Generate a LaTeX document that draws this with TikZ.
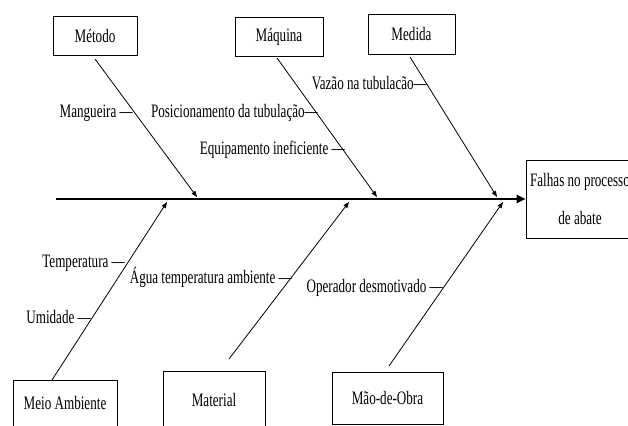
\documentclass[tikz,border=0pt]{standalone}
\usepackage{fontspec}
\setmainfont[FakeStretch=0.69]{Liberation Serif}
\usetikzlibrary{arrows.meta}
\begin{document}
\begin{tikzpicture}[x=1pt,y=-1pt,
  every node/.style={font=\fontsize{19}{22}\selectfont},
  catbox/.style={draw,line width=0.8pt,inner sep=0pt},
  lbl/.style={anchor=east,inner sep=0pt},
  bone/.style={line width=0.8pt,-{Triangle[length=6pt,width=4.5pt]}},
  spine/.style={line width=2.6pt,-{Triangle[length=9pt,width=8pt]}}]
\useasboundingbox (0,0) rectangle (628,425);
\clip (0,0) rectangle (628,425);
% category boxes
\node[catbox,minimum width=84pt,minimum height=39pt] (metodo) at (95,35.5) {Método};
\node[catbox,minimum width=88pt,minimum height=39pt] (maquina) at (279,36.5) {Máquina};
\node[catbox,minimum width=87pt,minimum height=40pt] (medida) at (411.5,34) {Medida};
\node[catbox,minimum width=104pt,minimum height=46pt] (meio) at (65,403) {Meio Ambiente};
\node[catbox,minimum width=102pt,minimum height=58pt] (material) at (214,400) {Material};
\node[catbox,minimum width=111pt,minimum height=52pt] (mao) at (387.5,398) {Mão-de-Obra};
% effect box
\node[catbox,minimum width=108pt,minimum height=78pt,align=center] (effect) at (580,199) {Falhas no processo\\[16pt]de abate};
% spine
\coordinate (tail) at (56,199);
\draw[spine] (tail) -- (effect.west);
% bone ends on the spine
\coordinate (t1) at (197,197);
\coordinate (t2) at (377,197);
\coordinate (t3) at (497,197);
\coordinate (b1) at (167,202);
\coordinate (b2) at (349,202);
\coordinate (b3) at (503,202);
\coordinate (s1) at (95,59);
\coordinate (s2) at (277,58);
\coordinate (s3) at (410,57);
\coordinate (s4) at (52,380);
\coordinate (s5) at (229,359);
\coordinate (s6) at (389,366);
\draw[bone] (s1) -- (t1);
\draw[bone] (s2) -- (t2);
\draw[bone] (s3) -- (t3);
\draw[bone] (s4) -- (b1);
\draw[bone] (s5) -- (b2);
\draw[bone] (s6) -- (b3);
% cause labels
\node[lbl] (l1) at (133,113) {Mangueira —};
\node[lbl] (l2) at (318,113) {Posicionamento da tubulação—};
\node[lbl] (l3) at (345,150) {Equipamento ineficiente —};
\node[lbl] (l4) at (427,83) {Vazão na tubulacão—};
\node[lbl] (l5) at (125,263) {Temperatura —};
\node[lbl] (l6) at (91,317) {Umidade —};
\node[lbl] (l7) at (292,277) {Água temperatura ambiente —};
\node[lbl] (l8) at (443,288) {Operador desmotivado —};
\end{tikzpicture}
\end{document}
